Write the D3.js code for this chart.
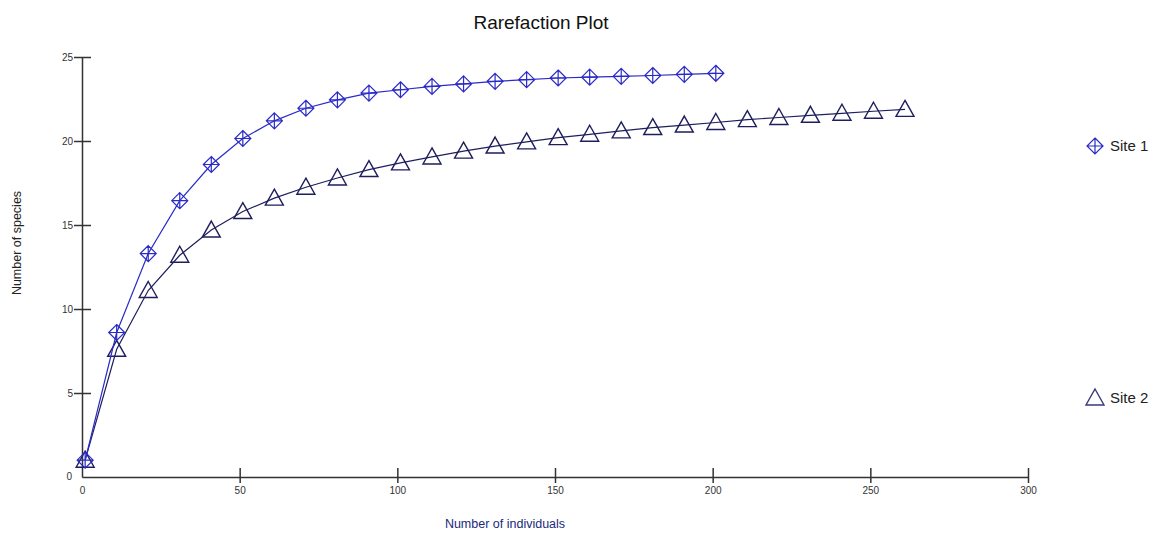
<!DOCTYPE html>
<html>
<head>
<meta charset="utf-8">
<script src="https://cdnjs.cloudflare.com/ajax/libs/d3/7.8.5/d3.min.js"></script>
<style>
  body { margin: 0; background: #fff; }
  svg text { font-family: "Liberation Sans", Arial, sans-serif; }
</style>
</head>
<body>
<div id="chart"></div>
<script>
// sample sizes (individuals) and rarefied species counts
const site1X = [1, 11, 21, 31, 41, 51, 61, 71, 81, 91, 101, 111, 121, 131, 141, 151, 161, 171, 181, 191, 201];
const site1Y = [1, 8.6, 13.3, 16.45, 18.6, 20.15, 21.2, 21.95, 22.45, 22.85, 23.05, 23.25, 23.4, 23.55, 23.65, 23.75, 23.8, 23.85, 23.9, 23.97, 24.03];
const site2X = [1, 11, 21, 31, 41, 51, 61, 71, 81, 91, 101, 111, 121, 131, 141, 151, 161, 171, 181, 191, 201, 211, 221, 231, 241, 251, 261];
const site2Y = [1, 7.6, 11.1, 13.2, 14.7, 15.8, 16.6, 17.25, 17.8, 18.3, 18.7, 19.05, 19.4, 19.7, 19.95, 20.2, 20.4, 20.6, 20.8, 20.95, 21.1, 21.27, 21.4, 21.53, 21.65, 21.77, 21.88];
const xTicks = [0, 50, 100, 150, 200, 250, 300];
const yTicks = [0, 5, 10, 15, 20, 25];
const seriesNames = ["Site 1", "Site 2"];

const width = 1160, height = 536;
const margin = { top: 57, right: 132, bottom: 59, left: 82 };
const innerW = width - margin.left - margin.right;
const innerH = height - margin.top - margin.bottom;

const svg = d3.select("#chart").append("svg")
    .attr("width", width)
    .attr("height", height);

const g = svg.append("g")
    .attr("transform", `translate(${margin.left},${margin.top})`);

const x = d3.scaleLinear().domain([0, 300]).range([0, innerW]);
const y = d3.scaleLinear().domain([0, 25]).range([innerH, 0]);

const axisColor = "#333";

// x axis: ticks cross the line
const xAxis = g.append("g")
    .attr("transform", `translate(0,${innerH})`)
    .call(d3.axisBottom(x).tickValues(xTicks).tickSize(0).tickPadding(10));
xAxis.select(".domain").attr("stroke", axisColor).attr("stroke-width", 1.5);
xAxis.selectAll(".tick line").remove();
xAxis.selectAll(".tick").filter(d => d !== 0).append("line")
    .attr("y1", -9).attr("y2", 6)
    .attr("stroke", axisColor).attr("stroke-width", 1.5);
xAxis.selectAll(".tick text")
    .attr("fill", "#333").style("font-size", "10px");

// y axis
const yAxis = g.append("g")
    .call(d3.axisLeft(y).tickValues(yTicks).tickSize(0).tickPadding(10));
yAxis.select(".domain").attr("stroke", axisColor).attr("stroke-width", 1.5);
yAxis.selectAll(".tick").filter(d => d !== 0).append("line")
    .attr("x1", -8).attr("x2", 9)
    .attr("stroke", axisColor).attr("stroke-width", 1.5);
yAxis.selectAll(".tick text")
    .attr("fill", "#333").style("font-size", "10px");
yAxis.selectAll(".tick").filter(d => d !== 0).select("text").attr("x", -9);
yAxis.selectAll(".tick").filter(d => d === 0).select("text").attr("x", -10).attr("dy", "0.2em");

// title and axis labels
svg.append("text")
    .attr("x", 541).attr("y", 29)
    .attr("text-anchor", "middle")
    .attr("fill", "#111")
    .style("font-size", "19px")
    .text("Rarefaction Plot");

svg.append("text")
    .attr("x", 505).attr("y", 528)
    .attr("text-anchor", "middle")
    .attr("fill", "#1a2a7a")
    .style("font-size", "12.5px")
    .text("Number of individuals");

svg.append("text")
    .attr("transform", "translate(21,243) rotate(-90)")
    .attr("text-anchor", "middle")
    .attr("fill", "#222")
    .style("font-size", "12.5px")
    .text("Number of species");

const line = d3.line().x(d => x(d[0])).y(d => y(d[1]));

const site1 = site1X.map((v, i) => [v, site1Y[i]]);
const site2 = site2X.map((v, i) => [v, site2Y[i]]);

const col1 = "#2a2ac8", col2 = "#1e1e5e";

// marker drawers
function diamond(sel, color) {
  sel.append("path")
    .attr("d", "M0,-8L8,0L0,8L-8,0Z M0,-8L0,8 M-8,0L8,0")
    .attr("fill", "none").attr("stroke", color).attr("stroke-width", 1.2);
}
function triangle(sel, color) {
  sel.append("path")
    .attr("d", "M0,-9L9,7L-9,7Z")
    .attr("fill", "none").attr("stroke", color).attr("stroke-width", 1.4);
}

g.append("path").datum(site2)
    .attr("fill", "none").attr("stroke", col2).attr("stroke-width", 1.2)
    .attr("d", line);
g.selectAll(".m2").data(site2).join("g")
    .attr("class", "m2")
    .attr("transform", d => `translate(${x(d[0])},${y(d[1])})`)
    .call(triangle, col2);

g.append("path").datum(site1)
    .attr("fill", "none").attr("stroke", col1).attr("stroke-width", 1.2)
    .attr("d", line);
g.selectAll(".m1").data(site1).join("g")
    .attr("class", "m1")
    .attr("transform", d => `translate(${x(d[0])},${y(d[1])})`)
    .call(diamond, col1);

// legend
const legendPos = [146, 398];
const legend = svg.selectAll(".legend").data(seriesNames).join("g")
    .attr("class", "legend")
    .attr("transform", (d, i) => `translate(1095,${legendPos[i]})`);
legend.each(function(d, i) {
  const s = d3.select(this);
  if (i === 0) diamond(s, col1); else triangle(s, "#3a3a7a");
});
legend.append("text")
    .attr("x", 15).attr("y", 5)
    .attr("fill", "#222")
    .style("font-size", "15px")
    .text(d => d);
</script>
</body>
</html>
